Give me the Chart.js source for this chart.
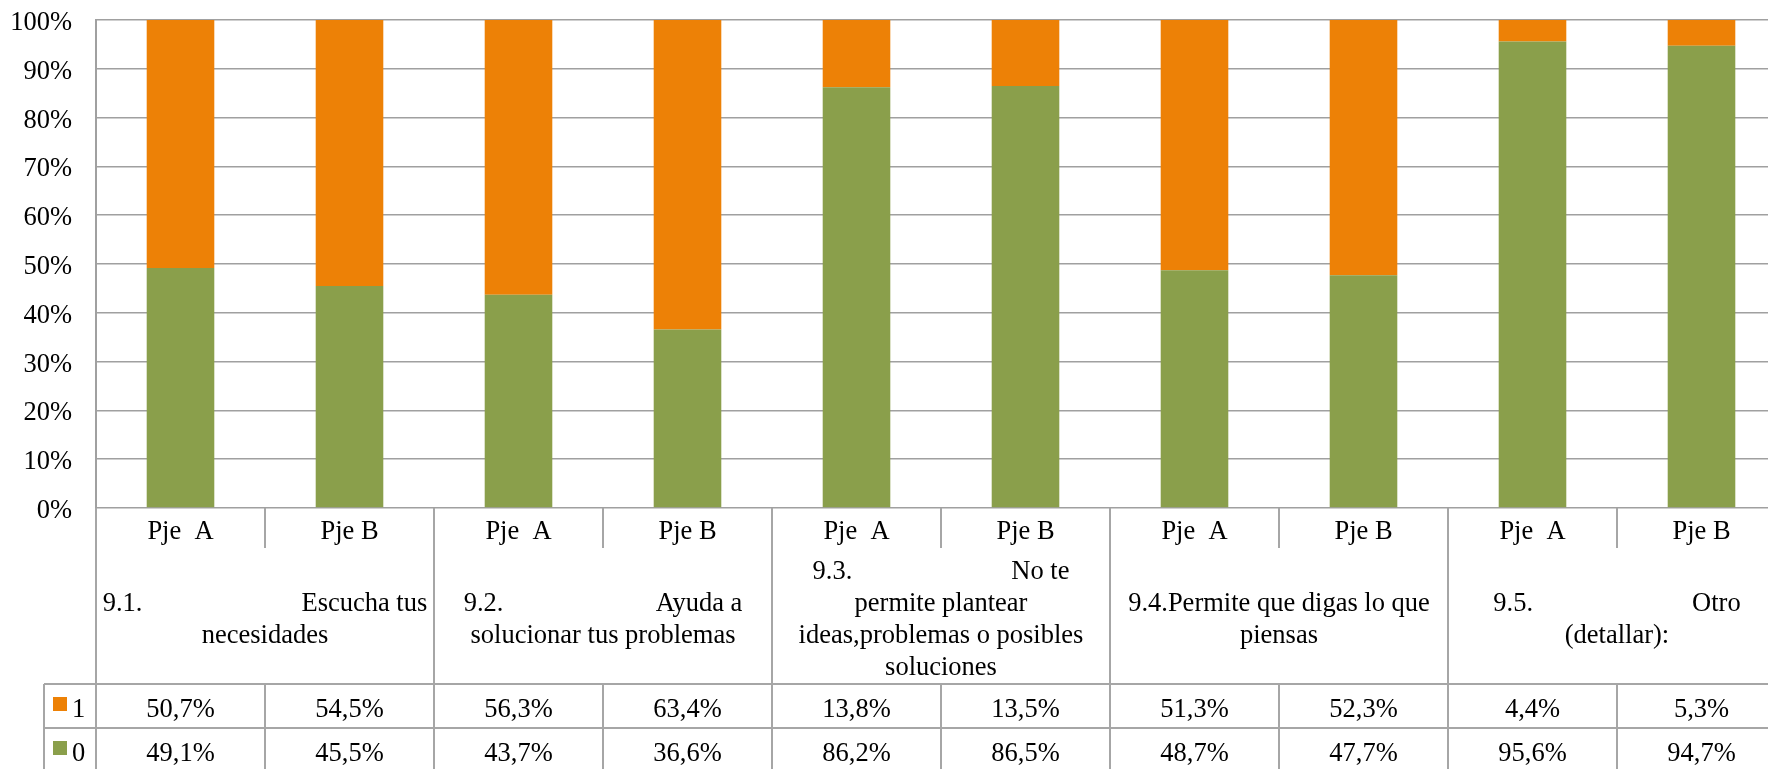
<!DOCTYPE html>
<html>
<head>
<meta charset="utf-8">
<script src="https://cdn.jsdelivr.net/npm/chart.js@4/dist/chart.umd.min.js"></script>
<style>
  html, body { margin: 0; padding: 0; background: #fff; overflow: hidden; }
  canvas { display: block; }
</style>
</head>
<body>
<canvas id="c" width="1786" height="769"></canvas>
<script>
// Sub-column labels (one per bar)
const barLabels = ['Pje  A', 'Pje B', 'Pje  A', 'Pje B', 'Pje  A', 'Pje B', 'Pje  A', 'Pje B', 'Pje  A', 'Pje B'];

// Question labels, one per pair of bars, already broken into lines
const groupLabels = [
  ['9.1.' + ' '.repeat(24) + 'Escucha tus', 'necesidades'],
  ['9.2.' + ' '.repeat(23) + 'Ayuda a', 'solucionar tus problemas'],
  ['9.3.' + ' '.repeat(24) + 'No te', 'permite plantear', 'ideas,problemas o posibles', 'soluciones'],
  ['9.4.Permite que digas lo que', 'piensas'],
  ['9.5.' + ' '.repeat(24) + 'Otro', '(detallar):']
];

// Series names and values (percent)
const seriesNames = ['1', '0'];
const serie1 = [50.7, 54.5, 56.3, 63.4, 13.8, 13.5, 51.3, 52.3, 4.4, 5.3];
const serie0 = [49.1, 45.5, 43.7, 36.6, 86.2, 86.5, 48.7, 47.7, 95.6, 94.7];

const colors = { s1: '#ED8106', s0: '#8A9F4B' };
const FONT = '"Liberation Serif", "Times New Roman", serif';

// 100% stacked: each bar is scaled to its own total
const share = (v, i) => v / (serie0[i] + serie1[i]) * 100;
const fmt = v => v.toFixed(1).replace('.', ',') + '%';

const tablePlugin = {
  id: 'dataTable',
  afterDraw(chart) {
    const { ctx, chartArea: a, scales: { x } } = chart;
    const n = barLabels.length;
    const step = x.getPixelForValue(1) - x.getPixelForValue(0);
    const edge = i => x.getPixelForValue(i) - step / 2;
    const y0 = a.bottom;
    const yPje = y0 + 40;
    const yRow1 = y0 + 176;
    const yRow2 = yRow1 + 44;
    const yEnd = yRow2 + 44;
    const legendLeft = 44;
    const right = edge(n);
    const dy = 4; // optical centring of serif glyphs

    ctx.save();
    ctx.strokeStyle = '#a6a6a6';
    ctx.lineWidth = 2;
    ctx.beginPath();
    // horizontal rules of the value rows
    ctx.moveTo(legendLeft, yRow1); ctx.lineTo(right, yRow1);
    ctx.moveTo(legendLeft, yRow2); ctx.lineTo(right, yRow2);
    // legend column left edge
    ctx.moveTo(legendLeft, yRow1); ctx.lineTo(legendLeft, yEnd);
    // column separators
    for (let i = 0; i <= n; i++) {
      const px = edge(i);
      if (i % 2 === 0) {
        ctx.moveTo(px, y0); ctx.lineTo(px, yEnd);
      } else {
        ctx.moveTo(px, y0); ctx.lineTo(px, yPje);
        ctx.moveTo(px, yRow1); ctx.lineTo(px, yEnd);
      }
    }
    ctx.stroke();

    ctx.fillStyle = '#000';
    ctx.font = '26.5px ' + FONT;
    ctx.textAlign = 'center';
    ctx.textBaseline = 'middle';

    // bar labels
    barLabels.forEach((t, i) => ctx.fillText(t, x.getPixelForValue(i), (y0 + yPje) / 2 + dy));

    // question labels, vertically centred in their band
    const lh = 32;
    const bandMid = (yPje + yRow1) / 2 + dy;
    groupLabels.forEach((lines, g) => {
      const cx = (edge(2 * g) + edge(2 * g + 2)) / 2;
      const top = bandMid - (lines.length * lh) / 2 + lh / 2;
      lines.forEach((line, k) => ctx.fillText(line, cx, top + k * lh));
    });

    // value rows
    const rows = [
      { name: seriesNames[0], color: colors.s1, vals: serie1, top: yRow1, bottom: yRow2 },
      { name: seriesNames[1], color: colors.s0, vals: serie0, top: yRow2, bottom: yEnd }
    ];
    rows.forEach(r => {
      const ty = (r.top + r.bottom) / 2 + dy;
      ctx.fillStyle = r.color;
      ctx.fillRect(53, r.top + 13, 14, 14);
      ctx.fillStyle = '#000';
      ctx.textAlign = 'left';
      ctx.fillText(r.name, 72, ty);
      ctx.textAlign = 'center';
      r.vals.forEach((v, i) => ctx.fillText(fmt(v), x.getPixelForValue(i), ty));
    });
    ctx.restore();
  }
};

new Chart(document.getElementById('c'), {
  type: 'bar',
  data: {
    labels: barLabels,
    datasets: [
      { label: seriesNames[1], data: serie0.map(share), backgroundColor: colors.s0, borderWidth: 0 },
      { label: seriesNames[0], data: serie1.map(share), backgroundColor: colors.s1, borderWidth: 0 }
    ]
  },
  options: {
    responsive: false,
    devicePixelRatio: 1,
    animation: false,
    layout: { padding: { top: 20, bottom: 261, left: 0, right: 0 } },
    datasets: { bar: { categoryPercentage: 1, barPercentage: 0.4 } },
    plugins: { legend: { display: false }, tooltip: { enabled: false } },
    scales: {
      x: { stacked: true, display: false },
      y: {
        stacked: true,
        min: 0,
        max: 100,
        afterFit: s => { s.width = 96; s.paddingTop = 0; s.paddingBottom = 0; },
        ticks: {
          stepSize: 10,
          padding: 24,
          labelOffset: 3,
          color: '#000',
          font: { family: FONT, size: 26.5 },
          callback: v => v + '%'
        },
        grid: { color: '#a0a0a0', lineWidth: 1.5, drawTicks: false },
        border: { color: '#a0a0a0', width: 2 }
      }
    }
  },
  plugins: [tablePlugin]
});
</script>
</body>
</html>
